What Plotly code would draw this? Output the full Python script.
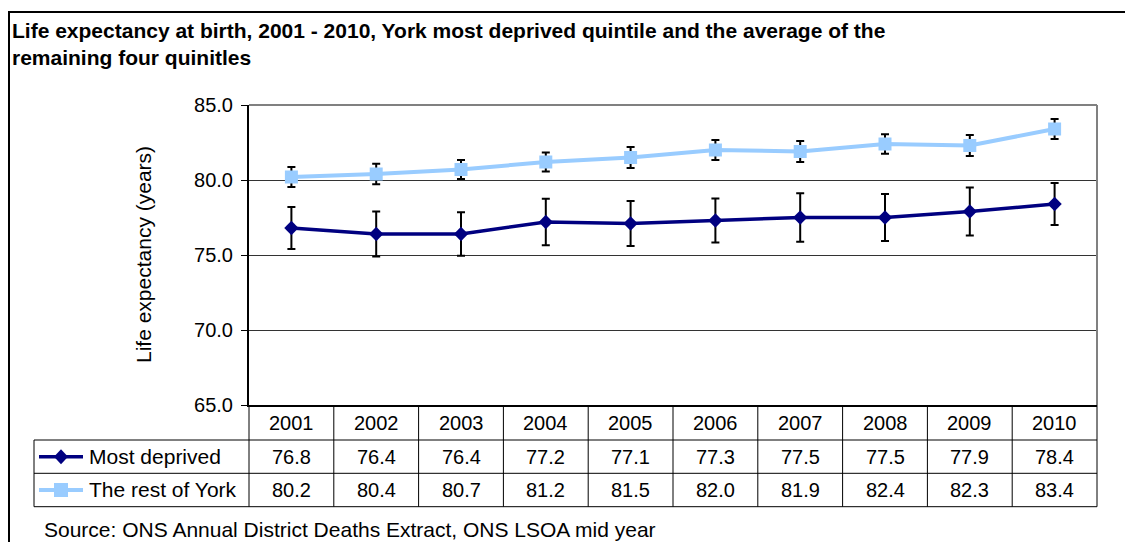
import plotly.graph_objects as go

# ---------------- data ----------------
years = ["2001", "2002", "2003", "2004", "2005", "2006", "2007", "2008", "2009", "2010"]
most_deprived = [76.8, 76.4, 76.4, 77.2, 77.1, 77.3, 77.5, 77.5, 77.9, 78.4]
most_deprived_err = [1.4, 1.5, 1.45, 1.55, 1.5, 1.47, 1.62, 1.57, 1.6, 1.4]
rest_of_york = [80.2, 80.4, 80.7, 81.2, 81.5, 82.0, 81.9, 82.4, 82.3, 83.4]
rest_of_york_err = [0.67, 0.68, 0.63, 0.63, 0.7, 0.67, 0.7, 0.65, 0.7, 0.66]
series_names = ["Most deprived", "The rest of York"]
y_ticks = [65, 70, 75, 80, 85]

title_line1 = "Life expectancy at birth, 2001 - 2010, York most deprived quintile and the average of the"
title_line2 = "remaining four quinitles"
y_title = "Life expectancy (years)"
source_text = "Source: ONS Annual District Deaths Extract, ONS LSOA mid year"

# ---------------- layout geometry (pixels, reference frame) ----------------
W, H = 1133, 542
OFF = 8  # default body margin of the html page
PL, PR, PT, PB = 249, 1097, 105, 405
FONT = "Liberation Sans, Arial, sans-serif"
DARK = "#000080"
LIGHT = "#99CCFF"


def xp(px):
    return (px - PL) / (PR - PL)


def yp(py):
    return (PB - py) / (PB - PT)


fig = go.Figure()

fig.add_trace(go.Scatter(
    x=years, y=rest_of_york, name=series_names[1], mode="lines+markers",
    line=dict(color=LIGHT, width=4),
    marker=dict(symbol="square", size=13, color=LIGHT),
    error_y=dict(type="data", array=rest_of_york_err, color="black", thickness=2, width=4),
    cliponaxis=False,
))
fig.add_trace(go.Scatter(
    x=years, y=most_deprived, name=series_names[0], mode="lines+markers",
    line=dict(color=DARK, width=3.5),
    marker=dict(symbol="diamond", size=11, color=DARK),
    error_y=dict(type="data", array=most_deprived_err, color="black", thickness=2, width=4),
    cliponaxis=False,
))

shapes = []


def line(x0, y0, x1, y1, color="black", width=1):
    shapes.append(dict(type="line", xref="paper", yref="paper",
                       x0=xp(x0), y0=yp(y0), x1=xp(x1), y1=yp(y1),
                       line=dict(color=color, width=width), layer="above"))


# outer frame
line(8, 12, W + 5, 12, width=2)
line(9, 12, 9, H + 5, width=2)
# plot area border (top / right)
line(PL, PT, PR, PT, color="#808080", width=2)
line(PR, PT, PR, PB, color="#808080", width=2)

# data table grid
ROW1, ROW2, ROW3 = 440, 473.3, 506.7
TL = 34
ncol = len(years)
colw = (PR - PL) / ncol
for k in range(ncol + 1):
    line(PL + k * colw, PB, PL + k * colw, ROW3)
for yy in (ROW1, ROW2, ROW3):
    line(TL, yy, PR, yy)
line(TL, ROW1, TL, ROW3)

# legend keys inside table
r1c = (ROW1 + ROW2) / 2
r2c = (ROW2 + ROW3) / 2
line(39, r1c, 83, r1c, color=DARK, width=3.5)
line(39, r2c, 83, r2c, color=LIGHT, width=4)
cx = 61
shapes.append(dict(type="path", xref="paper", yref="paper",
                   path=f"M {xp(cx-7)} {yp(r1c)} L {xp(cx)} {yp(r1c-7.5)} L {xp(cx+7)} {yp(r1c)} L {xp(cx)} {yp(r1c+7.5)} Z",
                   fillcolor=DARK, line=dict(width=0), layer="above"))
shapes.append(dict(type="rect", xref="paper", yref="paper",
                   x0=xp(cx - 7), x1=xp(cx + 7), y0=yp(r2c - 7), y1=yp(r2c + 7),
                   fillcolor=LIGHT, line=dict(width=0), layer="above"))

annotations = []
NFS = 20   # numbers
WFS = 21   # words
# year header + values (x = category index on the x axis)
for i, yr in enumerate(years):
    annotations.append(dict(x=i, xref="x", y=yp((PB + ROW1) / 2), yref="paper",
                            text=yr, showarrow=False, xanchor="center", yanchor="middle",
                            font=dict(family=FONT, size=NFS, color="black")))
    annotations.append(dict(x=i, xref="x", y=yp(r1c), yref="paper",
                            text=f"{most_deprived[i]:.1f}", showarrow=False,
                            xanchor="center", yanchor="middle",
                            font=dict(family=FONT, size=NFS, color="black")))
    annotations.append(dict(x=i, xref="x", y=yp(r2c), yref="paper",
                            text=f"{rest_of_york[i]:.1f}", showarrow=False,
                            xanchor="center", yanchor="middle",
                            font=dict(family=FONT, size=NFS, color="black")))

for name, yy in zip(series_names, (r1c, r2c)):
    annotations.append(dict(x=xp(87), xref="paper", y=yp(yy), yref="paper",
                            text=name, showarrow=False, xanchor="left", yanchor="middle",
                            font=dict(family=FONT, size=WFS, color="black")))

# title
annotations.append(dict(x=xp(10), xref="paper", y=yp(30), yref="paper", text=f"<b>{title_line1}</b>",
                        showarrow=False, xanchor="left", yanchor="middle",
                        font=dict(family=FONT, size=21, color="black")))
annotations.append(dict(x=xp(10), xref="paper", y=yp(57.5), yref="paper", text=f"<b>{title_line2}</b>",
                        showarrow=False, xanchor="left", yanchor="middle",
                        font=dict(family=FONT, size=21, color="black")))
# y title
annotations.append(dict(x=xp(143), xref="paper", y=yp((PT + PB) / 2), yref="paper", text=y_title,
                        showarrow=False, xanchor="center", yanchor="middle", textangle=-90,
                        font=dict(family=FONT, size=WFS, color="black")))
# source
annotations.append(dict(x=xp(42), xref="paper", y=yp(529), yref="paper", text=source_text,
                        showarrow=False, xanchor="left", yanchor="middle",
                        font=dict(family=FONT, size=WFS, color="black")))

FW, FH = W - OFF, H - OFF
fig.update_layout(
    width=FW, height=FH,
    margin=dict(l=PL - OFF, r=FW - (PR - OFF), t=PT - OFF, b=FH - (PB - OFF), pad=0),
    paper_bgcolor="white", plot_bgcolor="white",
    showlegend=False, hovermode=False,
    font=dict(family=FONT, size=NFS, color="black"),
    xaxis=dict(type="category", range=[-0.5, ncol - 0.5], showticklabels=False,
               showgrid=False, zeroline=False, ticks="",
               showline=True, linecolor="black", linewidth=2),
    yaxis=dict(range=[y_ticks[0], y_ticks[-1]], tickvals=y_ticks, tickformat=".1f",
               showgrid=True, gridcolor="#333333", gridwidth=1, zeroline=False,
               ticks="outside", ticklen=6, tickcolor="black", tickwidth=1,
               ticklabelstandoff=4,
               showline=True, linecolor="black", linewidth=2,
               tickfont=dict(family=FONT, size=NFS, color="black")),
    shapes=shapes, annotations=annotations,
)

fig.write_html("out.html")
